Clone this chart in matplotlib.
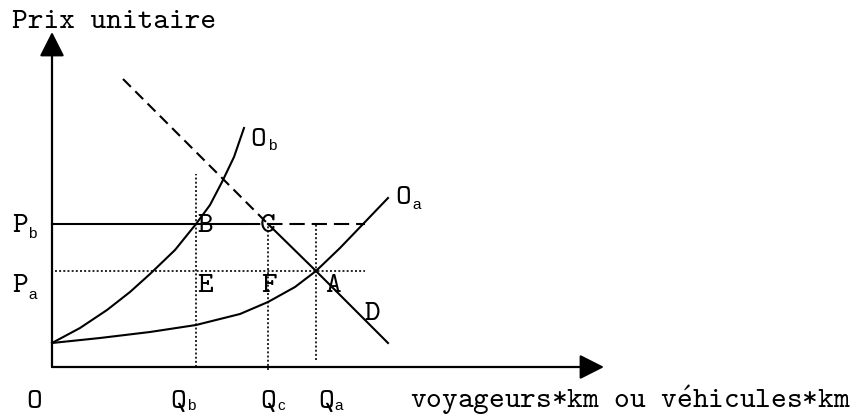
import matplotlib
matplotlib.use("Agg")
import matplotlib.pyplot as plt

plt.rcParams['lines.scale_dashes'] = False
plt.rcParams['mathtext.fontset'] = 'cm'

# ---- data (origin O at axis corner) ----
Qb, Qc, Qa = 144, 216, 264
Pb, Pa = 143, 96

# supply curve Oa
Oa_q = [0, 48, 98, 144, 188, 216, 243, 264, 288, 313, 336]
Oa_p = [24, 29, 35, 42, 53, 65, 80, 96, 119, 145, 169]

# supply curve Ob
Ob_q = [0, 28, 55, 78, 98, 123, 144, 158, 170, 182, 192]
Ob_p = [24, 39, 57, 75, 93, 117, 143, 162, 185, 210, 239]

# demand line D : dashed above Pb, solid below
D_dash_q = [71, Qc]
D_dash_p = [288, Pb]
D_solid_q = [Qc, Qa, 336]
D_solid_p = [Pb, Pa, 24]

# horizontal price lines
Pb_solid_q = [0, 193]
Pb_dash_q = [193, 313]
Pa_q = [3, 313]

# vertical quantity lines (q, p_bottom, p_top)
vlines = [(Qb, 0, 193), (Qc, -3, 143), (Qa, 7, 142)]

x_axis_end = 552
y_axis_end = 335

y_title = 'Prix unitaire'
x_title = r'voyageurs*km ou v$\mathtt{\acute{e}}$hicules*km'

fig = plt.figure(figsize=(8.63, 4.16), dpi=100)
ax = fig.add_axes([0, 0, 1, 1])
ax.set_xlim(-52, 811)
ax.set_ylim(-49, 367)
ax.axis('off')

lw = 1.5
mono = ['cmtt10', 'Liberation Mono']

# axes with arrows
for tip in [(x_axis_end, 0), (0, y_axis_end)]:
    ax.annotate('', xy=tip, xytext=(0, 0),
                arrowprops=dict(arrowstyle='-|>,head_length=0.75,head_width=0.38',
                                mutation_scale=20, lw=1.6, color='black',
                                shrinkA=0, shrinkB=0))

ax.plot(Oa_q, Oa_p, color='black', lw=lw, solid_joinstyle='round')
ax.plot(Ob_q, Ob_p, color='black', lw=lw, solid_joinstyle='round')
ax.plot(D_dash_q, D_dash_p, color='black', lw=lw, linestyle=(0, (8, 4.5)))
ax.plot(D_solid_q, D_solid_p, color='black', lw=lw)

ax.plot(Pb_solid_q, [Pb, Pb], color='black', lw=lw)
ax.plot(Pb_dash_q, [Pb, Pb], color='black', lw=lw, linestyle=(0, (11, 5)))
ax.plot(Pa_q, [Pa, Pa], color='black', lw=1.2, linestyle=(0, (1.4, 1.6)))
for q, p0, p1 in vlines:
    ax.plot([q, q], [p0, p1], color='black', lw=1.2, linestyle=(0, (1.4, 1.6)))

fs = 21.5
sfs = 11
sub_family = ['Liberation Sans']
def t(x, y, s, size=fs, family=mono, va='center', **kw):
    ax.text(x, y, s, fontsize=size, family=family, ha='center', va=va, **kw)

base = -41  # baseline of the bottom row of labels
ax.text(-40, 345, y_title, fontsize=fs, family=mono, ha='left', va='center')
ax.text(358, base, x_title, fontsize=fs, family=mono, ha='left', va='baseline')
t(-18, base, 'O', va='baseline')

# Q labels
for qx, sub in [(126, 'b'), (216, 'c'), (274, 'a')]:
    t(qx, base, 'Q', va='baseline')
    t(qx + 13, base - 2, sub, size=sfs, family=sub_family, va='baseline')
# P labels
t(-32, 141, 'P'); t(-20, 133, 'b', size=sfs, family=sub_family)
t(-32, 81, 'P'); t(-19, 72, 'a', size=sfs, family=sub_family)
# curve labels
t(206, 227, 'O'); t(220, 221, 'b', size=sfs, family=sub_family)
t(351, 169, 'O'); t(365, 162, 'a', size=sfs, family=sub_family)
# points
for x, y, s in [(153, 141, 'B'), (216, 141, 'C'), (153, 80, 'E'),
                (217, 80, 'F'), (281, 80, 'A'), (320, 52, 'D')]:
    t(x, y, s)

fig.savefig('out.png', dpi=100)
